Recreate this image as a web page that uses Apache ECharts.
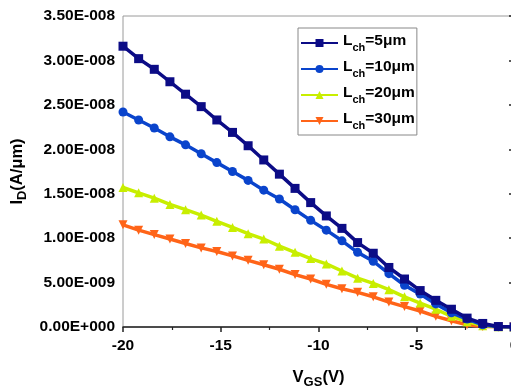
<!DOCTYPE html>
<html>
<head>
<meta charset="utf-8">
<script src="https://cdn.jsdelivr.net/npm/echarts@6/dist/echarts.min.js"></script>
<style>
  html, body { margin: 0; padding: 0; overflow: hidden; background: #fff; }
  #chart { width: 530px; height: 387px; }
</style>
</head>
<body>
<div id="chart"></div>
<script>
// Gate voltage sweep (V)
const vgs = [-20, -19.2, -18.4, -17.6, -16.8, -16.0, -15.2, -14.4, -13.6, -12.8,
             -12.0, -11.2, -10.4, -9.6, -8.8, -8.0, -7.2, -6.4, -5.6, -4.8,
             -4.0, -3.2, -2.4, -1.6, -0.8, 0.0];

// Drain current per channel length, in units of 1e-8 A/um
const id5um  = [3.16, 3.02, 2.90, 2.76, 2.62, 2.48, 2.33, 2.19, 2.04, 1.88,
                1.72, 1.56, 1.40, 1.25, 1.11, 0.95, 0.83, 0.67, 0.54, 0.41,
                0.30, 0.20, 0.10, 0.04, 0.005, 0.001];
const id10um = [2.42, 2.33, 2.24, 2.14, 2.05, 1.95, 1.85, 1.75, 1.65, 1.54,
                1.44, 1.32, 1.20, 1.09, 0.97, 0.84, 0.74, 0.60, 0.47, 0.37,
                0.26, 0.16, 0.09, 0.025, 0.004, 0.001];
const id20um = [1.57, 1.51, 1.45, 1.38, 1.32, 1.26, 1.19, 1.12, 1.05, 0.99,
                0.91, 0.84, 0.77, 0.71, 0.63, 0.55, 0.49, 0.42, 0.34, 0.27,
                0.20, 0.12, 0.06, 0.015, 0.004, 0.001];
const id30um = [1.15, 1.09, 1.04, 0.99, 0.94, 0.89, 0.85, 0.80, 0.75, 0.70,
                0.65, 0.59, 0.54, 0.48, 0.43, 0.39, 0.34, 0.28, 0.23, 0.18,
                0.12, 0.07, 0.025, 0.005, 0.002, 0.001];

const channelLengths = ['5', '10', '20', '30'];
const seriesNames = ['Lch=5μm', 'Lch=10μm', 'Lch=20μm', 'Lch=30μm'];

// Y tick labels, bottom to top
const yTickLabels = ['0.00E+000', '5.00E-009', '1.00E-008', '1.50E-008',
                     '2.00E-008', '2.50E-008', '3.00E-008', '3.50E-008'];
const xTickLabels = ['-20', '-15', '-10', '-5', '0'];

const colors = ['#0c0c86', '#0a44cc', '#c8ee00', '#ff6418'];
const symbols = ['rect', 'circle', 'triangle', 'triangle'];
const rotations = [0, 0, 0, 180];
const allData = [id5um, id10um, id20um, id30um];

const FONT = 'Arial, "Liberation Sans", sans-serif';

// Rich-text styles for "main + subscript" labels
function titleRich(main, sub, lh, drop) {
  return {
    b: { fontFamily: FONT, fontWeight: 'bold', fontSize: main, color: '#000', lineHeight: lh, verticalAlign: 'top' },
    s: { fontFamily: FONT, fontWeight: 'bold', fontSize: sub, color: '#000', lineHeight: lh, verticalAlign: 'bottom', padding: [drop, 0, 0, 0] }
  };
}

const chart = echarts.init(document.getElementById('chart'));

const series = allData.map((vals, i) => ({
  name: seriesNames[i],
  type: 'line',
  data: vals.map((v, k) => [vgs[k], v]),
  symbol: symbols[i],
  symbolRotate: rotations[i],
  symbolSize: 9,
  showAllSymbol: true,
  lineStyle: { color: colors[i], width: 3.5 },
  itemStyle: { color: colors[i] },
  emphasis: { disabled: true },
  animation: false,
  z: 10 - i
}));

chart.setOption({
  animation: false,
  grid: {
    left: 123, right: 16, top: 16, bottom: 60,
    containLabel: false,
    outerBoundsMode: 'none',
    show: true, borderColor: '#9a9a9a', borderWidth: 1
  },
  xAxis: {
    type: 'value',
    min: -20, max: 0, interval: 5,
    axisLine: { lineStyle: { color: '#222', width: 1.5 } },
    axisTick: { inside: false, length: 5, lineStyle: { color: '#222', width: 1.5 } },
    minorTick: { show: true, splitNumber: 2, length: 3, lineStyle: { color: '#222', width: 1.2 } },
    splitLine: { show: false },
    axisLabel: {
      color: '#000', fontFamily: FONT, fontWeight: 'bold', fontSize: 15.5, margin: 11,
      formatter: v => xTickLabels[Math.round((v + 20) / 5)]
    },
    name: '{b|V}{s|GS}{b|(V)}',
    nameLocation: 'middle',
    nameGap: 42,
    nameTextStyle: { rich: titleRich(16.5, 13, 20, 6) }
  },
  yAxis: {
    type: 'value',
    min: 0, max: 3.5, interval: 0.5,
    axisLine: { show: true, lineStyle: { color: '#222', width: 1.5 } },
    axisTick: { show: true, inside: false, length: 5, lineStyle: { color: '#222', width: 1.5 } },
    minorTick: { show: true, splitNumber: 2, length: 3, lineStyle: { color: '#222', width: 1.2 } },
    splitLine: { show: false },
    axisLabel: {
      color: '#000', fontFamily: FONT, fontWeight: 'bold', fontSize: 15.5, margin: 8,
      formatter: v => yTickLabels[Math.round(v / 0.5)]
    },
    name: '{b|I}{s|D}{b|(A/μm)}',
    nameLocation: 'middle',
    nameGap: 84,
    nameRotate: 90,
    nameTextStyle: { rich: titleRich(16.5, 13, 20, 6) }
  },
  legend: {
    left: 298, top: 28,
    orient: 'vertical',
    data: seriesNames,
    itemWidth: 37, itemHeight: 10,
    itemGap: 6,
    padding: [5, 2, 4, 2],
    borderColor: '#888', borderWidth: 1,
    backgroundColor: '#fff',
    selectedMode: false,
    formatter: name => {
      const idx = seriesNames.indexOf(name);
      return '{b|L}{s|ch}{b|=' + channelLengths[idx] + 'μm}';
    },
    textStyle: { rich: titleRich(15.5, 11, 20, 6) }
  },
  series: series
});
</script>
</body>
</html>
